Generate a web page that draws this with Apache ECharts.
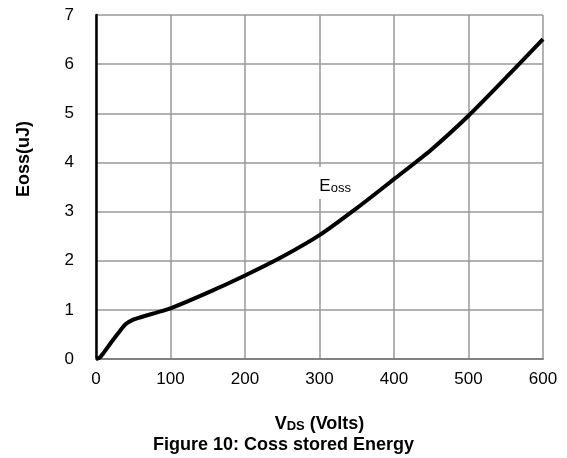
<!DOCTYPE html>
<html>
<head>
<meta charset="utf-8">
<script src="https://cdn.jsdelivr.net/npm/echarts@6/dist/echarts.min.js"></script>
<style>
html,body{margin:0;padding:0;background:#fff;}
#c{width:567px;height:458px;}
</style>
</head>
<body>
<div id="c"></div>
<script>
// Data
var vds = [0, 5, 10, 20, 30, 40, 50, 60, 80, 100, 150, 200, 250, 300, 350, 400, 450, 500, 550, 600];
var eoss = [0, 0.03, 0.12, 0.33, 0.53, 0.71, 0.80, 0.85, 0.94, 1.03, 1.35, 1.70, 2.08, 2.52, 3.07, 3.66, 4.26, 4.95, 5.72, 6.51];
var xTicks = [0, 100, 200, 300, 400, 500, 600];
var yTicks = [0, 1, 2, 3, 4, 5, 6, 7];
var seriesLabel = 'oss';
var xTitle = 'DS';
var caption = 'Figure 10: Coss stored Energy';
var yTitle = 'Eoss(uJ)';

var FONT = '"Liberation Sans", Arial, sans-serif';
var chart = echarts.init(document.getElementById('c'), null, {renderer: 'canvas'});
var points = vds.map(function (v, i) { return [v, eoss[i]]; });

chart.setOption({
  backgroundColor: '#fff',
  animation: false,
  textStyle: {fontFamily: FONT},
  grid: {left: 96, right: 24, top: 15, bottom: 99, containLabel: false},
  title: {
    text: caption,
    left: 'center',
    top: 431,
    textStyle: {fontFamily: FONT, fontSize: 18, fontWeight: 'bold', color: '#000'}
  },
  xAxis: {
    type: 'value',
    min: xTicks[0], max: xTicks[xTicks.length - 1], interval: 100,
    axisLine: {show: true, onZero: false, lineStyle: {color: '#808080', width: 2}},
    axisTick: {show: false},
    axisLabel: {fontFamily: FONT, fontSize: 17, color: '#000', margin: 12},
    splitLine: {show: true, lineStyle: {color: '#999', width: 1.5}},
    name: '{v|V}{s|' + xTitle + '}{v| (Volts)}',
    nameLocation: 'middle',
    nameGap: 50,
    nameTextStyle: {
      rich: {
        v: {fontFamily: FONT, fontSize: 18, fontWeight: 'bold', color: '#000', lineHeight: 24, verticalAlign: 'bottom'},
        s: {fontFamily: FONT, fontSize: 13, fontWeight: 'bold', color: '#000', lineHeight: 14, verticalAlign: 'bottom'}
      }
    }
  },
  yAxis: {
    type: 'value',
    min: yTicks[0], max: yTicks[yTicks.length - 1], interval: 1,
    axisLine: {show: true, onZero: false, lineStyle: {color: '#000', width: 2.5}},
    axisTick: {show: false},
    axisLabel: {fontFamily: FONT, fontSize: 17, color: '#000', margin: 22},
    splitLine: {show: true, lineStyle: {color: '#999', width: 1.5}}
  },
  graphic: [{
    type: 'text',
    x: 24, y: 159,
    rotation: Math.PI / 2,
    style: {
      text: yTitle,
      font: 'bold 18px ' + FONT,
      fill: '#000',
      textAlign: 'center',
      textVerticalAlign: 'middle'
    }
  }],
  series: [{
    type: 'line',
    data: points,
    smooth: 0.25,
    showSymbol: false,
    lineStyle: {color: '#000', width: 4},
    markPoint: {
      symbol: 'rect',
      symbolSize: [1, 1],
      itemStyle: {color: 'rgba(0,0,0,0)'},
      data: [{coord: [321, 3.58]}],
      label: {
        show: true,
        position: 'inside',
        formatter: '{e|E}{s|' + seriesLabel + '}',
        backgroundColor: '#fff',
        padding: [4, 6, 4, 6],
        rich: {
          e: {fontFamily: FONT, fontSize: 17, color: '#000', lineHeight: 24, verticalAlign: 'bottom'},
          s: {fontFamily: FONT, fontSize: 13, color: '#000', lineHeight: 14, verticalAlign: 'bottom'}
        }
      }
    }
  }]
});
</script>
</body>
</html>
